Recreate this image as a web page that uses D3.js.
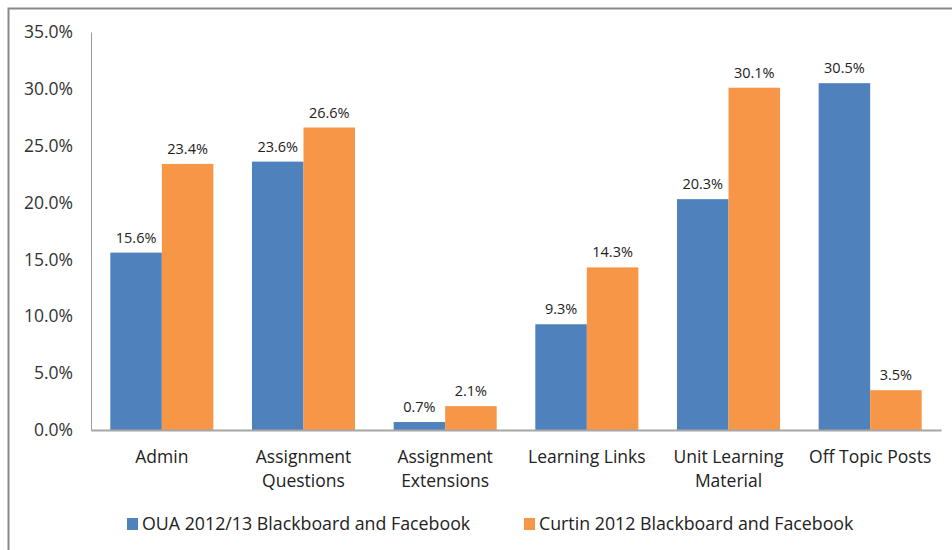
<!DOCTYPE html>
<html>
<head>
<meta charset="utf-8">
<script src="https://cdn.jsdelivr.net/npm/d3@7"></script>
<style>
  body { margin: 0; background: #fff; }
  svg { display: block; font-family: "Open Sans", sans-serif; }
</style>
</head>
<body>
<svg id="chart"></svg>
<script>
// data
const categories = [
  ["Admin"],
  ["Assignment", "Questions"],
  ["Assignment", "Extensions"],
  ["Learning Links"],
  ["Unit Learning", "Material"],
  ["Off Topic Posts"]
];
const seriesNames = ["OUA 2012/13 Blackboard and Facebook", "Curtin 2012 Blackboard and Facebook"];
const ouaValues = [15.6, 23.6, 0.7, 9.3, 20.3, 30.5];
const curtinValues = [23.4, 26.6, 2.1, 14.3, 30.1, 3.5];
const yTicks = [0, 5, 10, 15, 20, 25, 30, 35];
const colors = ["#4f81bd", "#f79646"];

const width = 952, height = 550;
const margin = { top: 32, right: 11, bottom: 120, left: 91 };
const innerW = width - margin.left - margin.right;
const innerH = height - margin.top - margin.bottom;

const svg = d3.select("#chart").attr("width", width).attr("height", height);

// outer frame (runs off the right and bottom edge)
svg.append("rect")
  .attr("x", 8.5).attr("y", 8.5)
  .attr("width", width + 10).attr("height", height + 10)
  .attr("fill", "none").attr("stroke", "#898989").attr("stroke-width", 2);

const g = svg.append("g").attr("transform", `translate(${margin.left},${margin.top})`);

const keys = categories.map((c, i) => i);
const x0 = d3.scaleBand().domain(keys).range([0, innerW]);
const x1 = d3.scaleBand().domain([0, 1]).range([0, x0.bandwidth()]).paddingOuter(0.375);
const y = d3.scaleLinear().domain([0, 35]).range([innerH, 0]);

const rows = keys.map(i => ({ i, vals: [ouaValues[i], curtinValues[i]] }));

const groups = g.selectAll(".grp").data(rows).join("g")
  .attr("class", "grp")
  .attr("transform", d => `translate(${x0(d.i)},0)`);

groups.selectAll("rect").data(d => d.vals.map((v, s) => ({ v, s }))).join("rect")
  .attr("x", d => x1(d.s))
  .attr("y", d => y(d.v))
  .attr("width", x1.bandwidth())
  .attr("height", d => innerH - y(d.v))
  .attr("fill", d => colors[d.s]);

groups.selectAll("text.lbl").data(d => d.vals.map((v, s) => ({ v, s }))).join("text")
  .attr("class", "lbl")
  .attr("x", d => x1(d.s) + x1.bandwidth() / 2)
  .attr("y", d => y(d.v) - 10)
  .attr("text-anchor", "middle")
  .attr("font-size", "14.5px")
  .attr("fill", "#222")
  .text(d => d.v.toFixed(1) + "%");

// y axis
const yAxis = d3.axisLeft(y).tickValues(yTicks).tickSize(0).tickPadding(18)
  .tickFormat(d => d.toFixed(1) + "%");
const yG = g.append("g").call(yAxis);
yG.select(".domain").attr("stroke", "#9a9a9a");
yG.selectAll("text").attr("font-size", "17.5px").attr("fill", "#333")
  .attr("font-family", "Open Sans, sans-serif");

// x axis
const xAxis = d3.axisBottom(x0).tickSize(0).tickFormat("");
const xG = g.append("g").attr("transform", `translate(0,${innerH})`).call(xAxis);
xG.select(".domain").attr("stroke", "#a6a6a6").attr("stroke-width", 2);

g.selectAll(".cat").data(keys).join("text")
  .attr("class", "cat")
  .attr("x", d => x0(d) + x0.bandwidth() / 2)
  .attr("y", innerH + 33)
  .attr("text-anchor", "middle")
  .attr("font-size", "17.5px")
  .attr("fill", "#222")
  .selectAll("tspan").data(d => categories[d]).join("tspan")
    .attr("x", function() { return this.parentNode.getAttribute("x"); })
    .attr("dy", (d, i) => i === 0 ? 0 : 24)
    .text(d => d);

// legend
const legendX = [127, 524];
const leg = svg.selectAll(".leg").data(seriesNames).join("g")
  .attr("class", "leg")
  .attr("transform", (d, i) => `translate(${legendX[i]},518)`);
leg.append("rect").attr("width", 11).attr("height", 12).attr("fill", (d, i) => colors[i]);
leg.append("text").attr("x", 15).attr("y", 12)
  .attr("font-size", "17.8px").attr("fill", "#222").text(d => d);
</script>
</body>
</html>
